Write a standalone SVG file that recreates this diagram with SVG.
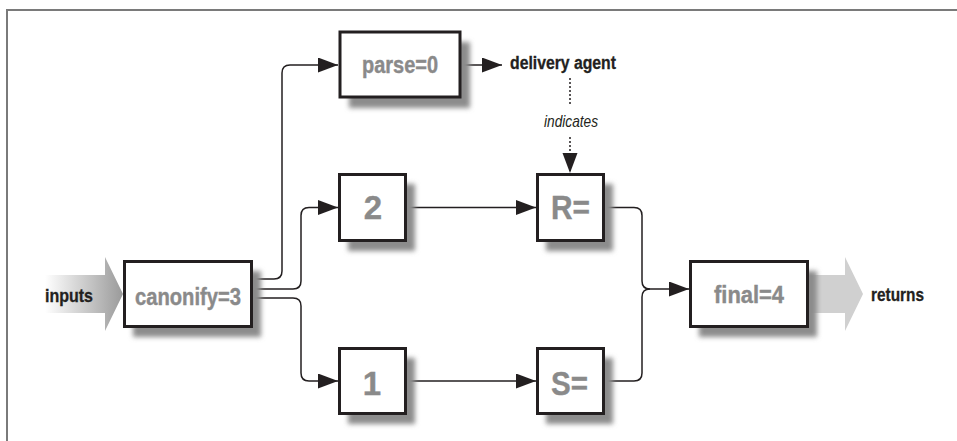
<svg xmlns="http://www.w3.org/2000/svg" width="957" height="441" viewBox="0 0 957 441">
<style>
.box{fill:#fff;stroke:#231f20;stroke-width:3}
.sh{fill:#8c8c8c;filter:url(#blur)}
.lbl{font-family:"Liberation Sans",Arial,sans-serif;font-weight:bold;fill:#8a8a8a;stroke:#8a8a8a;stroke-width:0.4;text-anchor:middle}
.big{font-size:33px}
.mid{font-size:23px}
.ext{font-family:"Liberation Sans",Arial,sans-serif;font-weight:bold;font-size:17.5px;fill:#231f20;stroke:#231f20;stroke-width:0.3}
.it{font-family:"Liberation Sans",Arial,sans-serif;font-style:italic;font-size:17px;fill:#231f20}
.ln{fill:none;stroke:#231f20;stroke-width:1.5}
.dot{fill:none;stroke:#231f20;stroke-width:1.5;stroke-dasharray:2,2}
</style>
<defs>
<filter id="blur" x="-20%" y="-20%" width="140%" height="140%"><feGaussianBlur stdDeviation="2.5"/></filter>
<marker id="ah" markerUnits="userSpaceOnUse" markerWidth="20" markerHeight="16" refX="20" refY="7.5" orient="auto"><path d="M0,0 L20,7.5 L0,15 z" fill="#231f20"/></marker>
<linearGradient id="ing" x1="0" y1="0" x2="1" y2="0"><stop offset="0" stop-color="#9a9a9a" stop-opacity="0"/><stop offset="1" stop-color="#9a9a9a"/></linearGradient>
</defs>
<rect width="957" height="441" fill="#fff"/>
<g id="frame"><path d="M7,441 V10 H957" fill="none" stroke="#7a7a7a" stroke-width="2"/></g>

<g id="inputs">
<path d="M45,275 H105 V257 L123,294 L105,331 V313 H45 z" fill="url(#ing)"/>
<text class="ext" x="69" y="302" text-anchor="middle" textLength="48" lengthAdjust="spacingAndGlyphs">inputs</text>
</g>

<g id="returns">
<path d="M805,275 H845 V257 L863,294 L845,331 V313 H805 z" fill="#d0d0d0"/>
<text class="ext" x="871" y="301" textLength="53" lengthAdjust="spacingAndGlyphs">returns</text>
</g>

<g id="connectors">
<path class="ln" d="M253,279 H274 Q282,279 282,271 V73 Q282,65 290,65 H338" marker-end="url(#ah)"/>
<path class="ln" d="M253,289 H293 Q301,289 301,281 V215.5 Q301,207.5 309,207.5 H338" marker-end="url(#ah)"/>
<path class="ln" d="M253,298 H293 Q301,298 301,306 V373 Q301,381 309,381 H338" marker-end="url(#ah)"/>
<path class="ln" d="M407,207.5 H536" marker-end="url(#ah)"/>
<path class="ln" d="M407,381 H536" marker-end="url(#ah)"/>
<path class="ln" d="M461,65 H502" marker-end="url(#ah)"/>
<path class="ln" d="M605,207.5 H634 Q642,207.5 642,215.5 V281 Q642,289 650,289 H689" marker-end="url(#ah)"/>
<path class="ln" d="M605,381 H634 Q642,381 642,373 V297 Q642,289 650,289"/>
<path class="dot" d="M570,78 V106"/>
<path class="dot" d="M570,137 V173" marker-end="url(#ah)"/>
</g>

<g id="delivery">
<text class="ext" x="510" y="69" textLength="106" lengthAdjust="spacingAndGlyphs">delivery agent</text>
</g>
<g id="indicates">
<text class="it" x="544" y="127" textLength="54" lengthAdjust="spacingAndGlyphs">indicates</text>
</g>

<g id="parse">
<rect class="sh" x="349" y="42" width="121" height="66"/>
<rect class="box" x="340" y="32" width="120" height="65"/>
<text class="lbl mid" x="400" y="73" textLength="76" lengthAdjust="spacingAndGlyphs">parse=0</text>
</g>
<g id="canonify">
<rect class="sh" x="133" y="271" width="128" height="66"/>
<rect class="box" x="124.5" y="261.5" width="127" height="65"/>
<text class="lbl mid" x="188" y="305" textLength="106" lengthAdjust="spacingAndGlyphs">canonify=3</text>
</g>
<g id="n2">
<rect class="sh" x="348" y="184" width="67" height="67"/>
<rect class="box" x="339.5" y="174.5" width="66" height="66"/>
<text class="lbl big" x="373" y="219">2</text>
</g>
<g id="n1">
<rect class="sh" x="348" y="358" width="67" height="66"/>
<rect class="box" x="339.5" y="348.5" width="66" height="65"/>
<text class="lbl big" x="372" y="395">1</text>
</g>
<g id="R">
<rect class="sh" x="546" y="184" width="67" height="67"/>
<rect class="box" x="537.5" y="174.5" width="66" height="66"/>
<text class="lbl big" x="570.5" y="219" textLength="39" lengthAdjust="spacingAndGlyphs">R=</text>
</g>
<g id="S">
<rect class="sh" x="546" y="358" width="67" height="66"/>
<rect class="box" x="537.5" y="348.5" width="66" height="65"/>
<text class="lbl big" x="569.5" y="395" textLength="37" lengthAdjust="spacingAndGlyphs">S=</text>
</g>
<g id="final">
<rect class="sh" x="699" y="271" width="118" height="66"/>
<rect class="box" x="690.5" y="261.5" width="117" height="65"/>
<text class="lbl mid" x="749" y="303" textLength="70" lengthAdjust="spacingAndGlyphs">final=4</text>
</g>
</svg>
